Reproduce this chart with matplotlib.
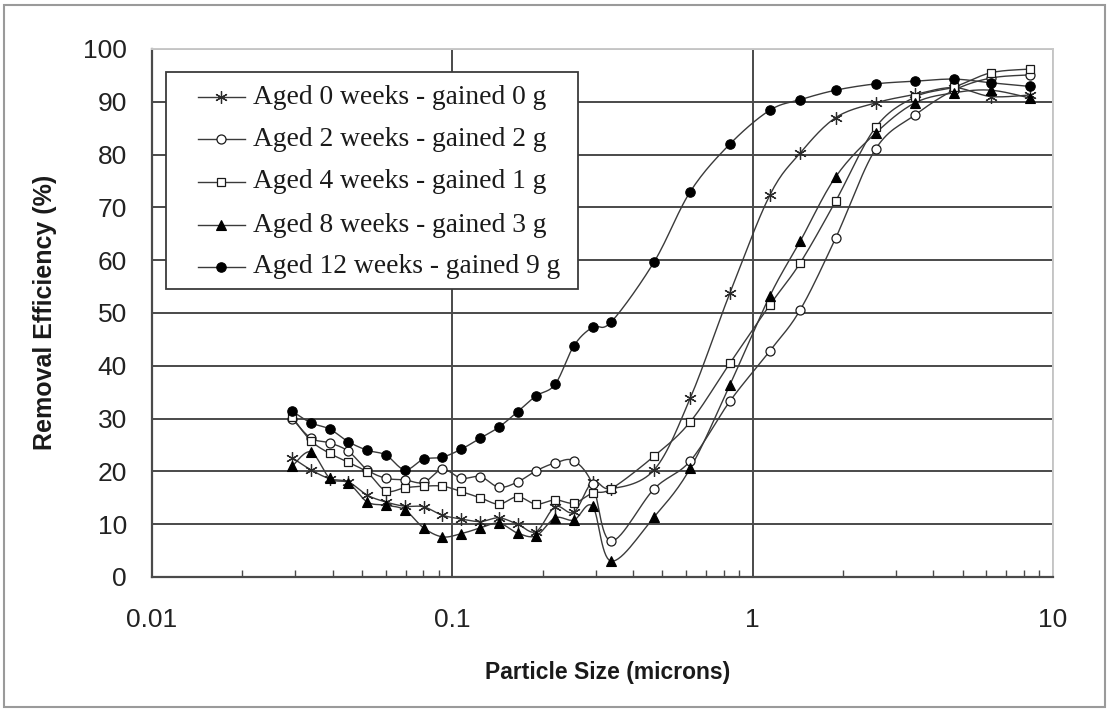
import numpy as np
import matplotlib
matplotlib.use("Agg")
import matplotlib.pyplot as plt
from matplotlib.lines import Line2D
from matplotlib.patches import Rectangle
from matplotlib.ticker import LogLocator, NullFormatter, FixedLocator

# particle size channels (microns)
sizes = [0.0293, 0.0338, 0.0391, 0.0451, 0.0521, 0.0601, 0.0695, 0.0802, 0.0927,
         0.107, 0.124, 0.143, 0.165, 0.190, 0.220, 0.254, 0.293, 0.338,
         0.47, 0.62, 0.84, 1.14, 1.44, 1.89, 2.57, 3.47, 4.68, 6.21, 8.41]

# removal efficiency (%) per filter
aged_0 = [22.6, 20.3, 18.6, 18.0, 15.5, 14.2, 13.4, 13.3, 11.7, 11.0, 10.5, 11.2, 10.0,
          8.6, 13.3, 12.3, 18.0, 16.7,
          20.3, 33.9, 53.8, 72.3, 80.3, 87.0, 89.8, 91.4, 92.7, 91.0, 91.3]
aged_2 = [30.0, 26.3, 25.4, 23.8, 20.3, 18.7, 18.4, 17.9, 20.4, 18.7, 19.0, 17.0, 18.0,
          20.1, 21.6, 22.0, 17.6, 6.8,
          16.7, 22.0, 33.3, 42.8, 50.6, 64.2, 81.1, 87.5, 92.2, 94.5, 95.1]
aged_4 = [30.3, 25.8, 23.4, 21.7, 19.8, 16.3, 16.9, 17.2, 17.2, 16.2, 15.0, 13.8, 15.2,
          13.8, 14.6, 14.0, 15.9, 16.7,
          22.9, 29.4, 40.5, 51.5, 59.5, 71.2, 85.2, 90.9, 92.8, 95.5, 96.2]
aged_8 = [21.0, 23.7, 18.7, 17.8, 14.2, 13.6, 12.7, 9.3, 7.6, 8.2, 9.3, 10.2, 8.3,
          7.8, 11.2, 10.8, 13.4, 3.0,
          11.4, 20.6, 36.4, 53.2, 63.6, 75.8, 84.1, 89.8, 91.7, 92.2, 90.7]
aged_12 = [31.4, 29.2, 28.0, 25.6, 24.0, 23.1, 20.3, 22.3, 22.7, 24.2, 26.3, 28.4, 31.3,
           34.3, 36.5, 43.8, 47.3, 48.3,
           59.7, 73.0, 82.0, 88.4, 90.4, 92.2, 93.4, 93.9, 94.3, 93.6, 92.9]

labels = ["Aged 0 weeks - gained 0 g", "Aged 2 weeks - gained 2 g",
          "Aged 4 weeks - gained 1 g", "Aged 8 weeks - gained 3 g",
          "Aged 12 weeks - gained 9 g"]
series = [aged_0, aged_2, aged_4, aged_8, aged_12]

line_col = "#3a3a3a"
edge_col = "#1a1a1a"
styles = [
    dict(marker=(6, 2, 0), markersize=9, markerfacecolor=edge_col, markeredgecolor="#2a2a2a", markeredgewidth=0.9),
    dict(marker="o", markersize=6.5, markerfacecolor="white", markeredgecolor=edge_col, markeredgewidth=0.9),
    dict(marker="s", markersize=6, markerfacecolor="white", markeredgecolor=edge_col, markeredgewidth=0.9),
    dict(marker="^", markersize=7, markerfacecolor="black", markeredgecolor="black", markeredgewidth=0.8),
    dict(marker="o", markersize=6.8, markerfacecolor="black", markeredgecolor="black", markeredgewidth=0.8),
]


def smooth(x, y, n=16):
    # bezier smoothing through the points, done in screen-like units
    u = np.log10(x) * 300.0
    v = np.asarray(y, dtype=float) * 5.28
    P = np.column_stack([u, v])
    t = np.linspace(0, 1, n)[:, None]
    out = []
    for i in range(len(P) - 1):
        p0 = P[i - 1] if i > 0 else P[i]
        p1, p2 = P[i], P[i + 1]
        p3 = P[i + 2] if i + 2 < len(P) else P[i + 1]
        c1 = p1 + (p2 - p0) / 6.0
        c2 = p2 - (p3 - p1) / 6.0
        seg = (1 - t) ** 3 * p1 + 3 * (1 - t) ** 2 * t * c1 + 3 * (1 - t) * t ** 2 * c2 + t ** 3 * p2
        out.append(seg if i == 0 else seg[1:])
    out = np.vstack(out)
    return 10 ** (out[:, 0] / 300.0), out[:, 1] / 5.28


W, H = 1110, 710
fig = plt.figure(figsize=(W / 100, H / 100), dpi=100)
ax = fig.add_axes([152 / W, 1 - 577 / H, 901 / W, 528 / H])

ax.set_xscale("log")
ax.set_xlim(0.01, 10)
ax.set_ylim(0, 100)

for y, st in zip(series, styles):
    xs, ys = smooth(sizes, y)
    ax.plot(xs, ys, color=line_col, lw=1.0, zorder=3)
    ax.plot(sizes, y, linestyle="none", zorder=4, **st)

# grid
ax.set_yticks(np.arange(0, 101, 10))
ax.yaxis.grid(True, color="#4a4a4a", lw=1.4)
ax.xaxis.set_major_locator(FixedLocator([0.01, 0.1, 1, 10]))
ax.xaxis.grid(True, which="major", color="#4a4a4a", lw=1.4)
ax.xaxis.set_minor_locator(LogLocator(base=10, subs=np.arange(2, 10)))
ax.xaxis.set_minor_formatter(NullFormatter())
ax.set_xticklabels(["0.01", "0.1", "1", "10"])
ax.set_axisbelow(True)

ax.tick_params(axis="x", which="minor", direction="in", length=5, width=1.0, color="#4a4a4a")
ax.tick_params(axis="x", which="major", length=0, pad=22, labelsize=19, labelcolor="#222222")
ax.tick_params(axis="y", length=0, pad=18, labelsize=19, labelcolor="#222222")
for lab in ax.get_xticklabels() + ax.get_yticklabels():
    lab.set_fontfamily("Liberation Sans")

for s in ["left", "bottom"]:
    ax.spines[s].set_color("#4a4a4a")
    ax.spines[s].set_linewidth(1.6)
for s in ["top", "right"]:
    ax.spines[s].set_color("#c8c8c8")
    ax.spines[s].set_linewidth(1.4)

fig.text(45 / W, 1 - 312 / H, "Removal Efficiency (%)", rotation=90, ha="center", va="center",
         fontsize=18, fontweight="bold", family="Liberation Sans", color="#1a1a1a")
xl = fig.text(608 / W, 1 - 672 / H, "Particle Size (microns)", ha="center", va="center",
              fontsize=16.5, fontweight="bold", family="Liberation Sans", color="#1a1a1a")

# legend box
def fx(px):
    return px / W


def fy(py):
    return 1 - py / H


fig.patches.append(Rectangle((fx(166), fy(289)), fx(578) - fx(166), fy(72) - fy(289),
                             transform=fig.transFigure, facecolor="white",
                             edgecolor="#3a3a3a", lw=1.3, zorder=5))
rows = [97, 139, 182, 225, 267]
for py, lab, st in zip(rows, labels, styles):
    fig.lines.append(Line2D([fx(198), fx(245)], [fy(py), fy(py)], transform=fig.transFigure,
                            color=line_col, lw=1.0, zorder=6))
    fig.lines.append(Line2D([fx(221)], [fy(py)], transform=fig.transFigure, linestyle="none",
                            zorder=7, **st))
    fig.text(fx(253), fy(py), lab, ha="left", va="center", fontsize=19.8,
             family="Liberation Serif", color="#1a1a1a", zorder=7)

# outer frame
fig.patches.append(Rectangle((fx(4), fy(707)), fx(1105) - fx(4), fy(5) - fy(707),
                             transform=fig.transFigure, fill=False, edgecolor="#9a9a9a", lw=1.5))

fig.savefig("out.png", dpi=100)
